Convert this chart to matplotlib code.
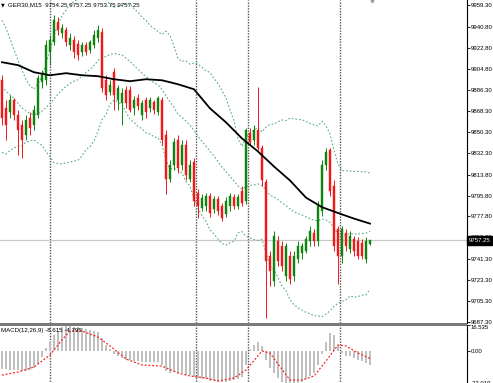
import numpy as np
import pandas as pd
import matplotlib
matplotlib.use("Agg")
import matplotlib.pyplot as plt
from matplotlib.patches import Rectangle
import matplotlib.transforms as mtransforms

plt.rcParams['font.family'] = ['Liberation Sans', 'DejaVu Sans']

# ---------------- data ----------------
symbol_title = "GER30,M15  9754.25 9757.25 9753.75 9757.25"
macd_title = "MACD(12,26,9) -8.615 -4.795"

# closes before the first visible candle (Bollinger warm-up only)
pre_close = [9937.8, 9939.5, 9933.5, 9929.2, 9922.3, 9911.9, 9899.0, 9886.1, 9873.2, 9864.6,
             9860.3, 9867.2, 9862.0, 9856.0, 9864.6, 9870.6, 9877.5, 9881.8, 9890.4]

open_ = [9894.7, 9870.6, 9867.2, 9877.5, 9864.6, 9856.0, 9847.4, 9862.0, 9856.0, 9864.6,
         9893.0, 9894.7, 9918.8, 9927.4, 9944.7, 9935.2, 9937.8, 9924.9, 9929.2, 9925.7,
         9918.8, 9924.9, 9920.6, 9924.9, 9930.9, 9936.1, 9894.7, 9884.4, 9901.6, 9877.5,
         9874.9, 9886.1, 9886.1, 9870.6, 9879.2, 9864.6, 9877.5, 9870.6, 9875.8, 9867.2,
         9877.5, 9847.4, 9810.4, 9821.6, 9843.1, 9821.6, 9838.8, 9810.4, 9824.2, 9798.3,
         9785.4, 9787.1, 9795.8, 9784.6, 9793.2, 9787.1, 9780.2, 9787.1, 9794.9, 9787.1,
         9800.1, 9791.4, 9849.1, 9843.1, 9851.7, 9836.2, 9807.0, 9744.1, 9722.6, 9757.0,
         9752.7, 9726.9, 9744.1, 9726.9, 9741.5, 9746.7, 9748.4, 9757.0, 9763.9, 9757.0,
         9782.8, 9821.6, 9834.5, 9804.4, 9767.3, 9744.1, 9763.9, 9750.1, 9758.7, 9757.0,
         9755.3, 9741.5, 9754.25]
high = [9899.0, 9877.5, 9881.8, 9879.2, 9868.9, 9860.3, 9864.6, 9867.2, 9873.2, 9899.0,
        9903.3, 9929.2, 9933.5, 9950.7, 9949.0, 9942.9, 9940.4, 9935.2, 9932.6, 9929.2,
        9927.4, 9927.4, 9929.2, 9937.8, 9942.1, 9939.5, 9899.0, 9894.7, 9905.1, 9890.4,
        9887.9, 9889.6, 9889.6, 9881.0, 9882.7, 9877.5, 9880.1, 9880.1, 9877.5, 9881.0,
        9880.1, 9851.7, 9825.9, 9844.8, 9847.4, 9843.1, 9843.1, 9825.9, 9827.6, 9801.8,
        9797.5, 9798.3, 9798.3, 9795.8, 9795.8, 9789.7, 9794.9, 9798.3, 9797.5, 9797.5,
        9804.4, 9853.4, 9853.4, 9856.0, 9888.7, 9838.8, 9810.4, 9748.4, 9765.6, 9761.3,
        9757.0, 9755.3, 9748.4, 9748.4, 9757.0, 9755.3, 9761.3, 9769.9, 9767.3, 9791.4,
        9825.9, 9836.2, 9836.2, 9808.7, 9769.9, 9769.9, 9767.3, 9765.6, 9761.3, 9760.4,
        9758.7, 9760.4, 9757.25]
low = [9856.0, 9843.1, 9862.0, 9860.3, 9830.2, 9827.6, 9843.1, 9847.4, 9851.7, 9862.0,
       9887.9, 9890.4, 9907.6, 9924.9, 9933.5, 9930.9, 9924.0, 9920.6, 9913.7, 9912.0,
       9915.4, 9916.3, 9918.0, 9922.3, 9927.4, 9884.4, 9877.5, 9881.8, 9868.9, 9868.9,
       9856.0, 9870.6, 9867.2, 9864.6, 9868.9, 9860.3, 9862.0, 9867.2, 9865.5, 9864.6,
       9838.8, 9797.5, 9807.0, 9817.3, 9815.5, 9817.3, 9808.7, 9807.0, 9787.1, 9776.8,
       9782.8, 9782.8, 9777.7, 9781.1, 9779.4, 9774.2, 9777.7, 9782.8, 9784.6, 9784.6,
       9787.1, 9788.9, 9838.8, 9838.8, 9834.5, 9804.4, 9690.7, 9718.3, 9718.3, 9735.5,
       9731.2, 9722.6, 9720.0, 9722.6, 9738.1, 9741.5, 9746.7, 9752.7, 9752.7, 9752.7,
       9778.5, 9817.3, 9795.8, 9748.4, 9720.0, 9738.1, 9748.4, 9746.7, 9744.1, 9741.5,
       9741.5, 9738.1, 9753.75]
close = [9862.0, 9856.0, 9877.5, 9864.6, 9851.7, 9843.1, 9860.3, 9853.4, 9868.9, 9896.5,
         9899.0, 9924.9, 9929.2, 9946.4, 9937.8, 9939.5, 9927.4, 9930.9, 9918.8, 9916.3,
         9924.9, 9918.8, 9927.4, 9933.5, 9937.8, 9887.9, 9881.8, 9890.4, 9881.8, 9887.9,
         9883.5, 9874.9, 9868.9, 9877.5, 9872.4, 9874.9, 9867.2, 9877.5, 9868.9, 9879.2,
         9843.1, 9810.4, 9821.6, 9841.4, 9819.0, 9838.8, 9813.0, 9821.6, 9791.4, 9787.1,
         9794.0, 9795.8, 9781.1, 9793.2, 9782.8, 9776.8, 9791.4, 9795.8, 9787.1, 9794.9,
         9789.7, 9851.7, 9841.4, 9851.7, 9836.2, 9808.7, 9739.8, 9731.2, 9761.3, 9739.8,
         9735.5, 9752.7, 9724.3, 9744.1, 9752.7, 9752.7, 9758.7, 9765.6, 9757.0, 9787.1,
         9821.6, 9832.8, 9800.1, 9752.7, 9744.1, 9767.3, 9752.7, 9761.3, 9748.4, 9744.1,
         9744.1, 9757.0, 9757.25]

# moving average (black), sampled every 4th bar
ma_idx = list(range(0, 93, 4))
ma_val = [9910.2, 9907.7, 9901.6, 9899.0, 9900.8, 9899.0, 9898.2, 9895.6, 9893.9, 9895.6,
          9894.7, 9891.3, 9887.0, 9870.6, 9858.6, 9844.8, 9833.6, 9820.7, 9808.7, 9794.0,
          9785.8, 9780.8, 9776.0, 9771.7]

# MACD histogram (main line) per bar
macd_main = [-11.5, -11.5, -12, -12, -12, -12.5, -12.5, -12, -11, -8,
             -4, 2, 6, 10, 13, 15, 16.535, 16, 15.5, 15,
             14.5, 14, 13.5, 13, 12, 8, 4, 1, -2, -3.5,
             -4.5, -5.5, -6, -6.5, -6.5, -7, -7, -7, -7, -7,
             -9, -13, -14, -13.5, -14, -14, -15, -15, -16.5, -17.5,
             -18, -18, -19, -19, -19.5, -20, -19.5, -19, -18.5, -18,
             -16.5, -9, 1, 4, 6, 3, -6, -11, -14, -17,
             -19.5, -21, -22.019, -21.5, -20.5, -19.5, -18, -16, -14, -9,
             -2, 6, 11.5, 10, 4, -1.5, -3, -3.5, -4.5, -5.5,
             -6.5, -7.5, -8.615]
# MACD signal, sampled
sig_idx = [0, 4, 8, 12, 15, 17, 20, 24, 27, 31, 35, 40, 44, 47, 51, 54, 58, 61, 65, 67,
           69, 72, 75, 78, 81, 84, 86, 89, 92]
sig_val = [-15.3, -13.4, -10.2, -2.5, 7.0, 12.7, 12.7, 8.9, 3.2, -5.1, -8.9, -9.6, -14.0,
           -15.9, -17.2, -19.1, -17.2, -12.1, 0.0, -1.3, -8.3, -18.5, -18.5, -15.9, -6.4,
           3.8, 3.2, -1.3, -4.795]

separators = [12, 48.5, 61.5, 84.5]
price_ticks = [9959.30, 9940.80, 9922.80, 9904.80, 9886.30, 9868.30, 9850.30, 9832.30,
               9813.80, 9795.80, 9777.80, 9759.80, 9741.30, 9723.30, 9705.30, 9687.30]
macd_ticks = [-22.019, 0.0, 16.535]

# ---------------- figure ----------------
W, H = 493, 383
fig = plt.figure(figsize=(W / 100, H / 100), dpi=100)
fig.patch.set_facecolor('white')

def fx(px):
    return px / W

def fy(py):
    return 1 - py / H

ax = fig.add_axes([0, fy(323), fx(467), fy(0) - fy(323)])
axm = fig.add_axes([0, fy(385.6), fx(467), fy(325) - fy(385.6)])

n = len(close)
x = np.arange(n)
o = np.array(open_); c = np.array(close); h = np.array(high); l = np.array(low)
up = c >= o
bull, bear = '#0f850f', '#f01818'
cols = np.where(up, bull, bear)

# Bollinger bands 20,2
allc = pd.Series(pre_close + close)
mid = allc.rolling(20).mean().values[-n:]
sd = allc.rolling(20).std(ddof=0).values[-n:]
bb_col = '#5aae86'
for band in (mid + 2 * sd, mid, mid - 2 * sd):
    ax.plot(x, band, color=bb_col, lw=0.8, ls=(0, (1.5, 1.8)), zorder=2)

ax.vlines(x, l, h, colors=cols, lw=0.7, zorder=3)
body = np.where(np.abs(c - o) < 0.5, 0.5, c - o)
ax.bar(x, body, bottom=o, width=0.62, color=cols, edgecolor=cols, lw=0.3, zorder=4)

ax.plot(ma_idx, ma_val, color='black', lw=1.3, zorder=5)

for s in separators:
    ax.axvline(s, color='#555555', lw=1.0, ls=(0, (1, 1)), zorder=1)
    axm.axvline(s, color='#555555', lw=1.0, ls=(0, (1, 1)), zorder=1)

last = close[-1]
ax.axhline(last, color='#c8c8c8', lw=0.9, zorder=1)

ax.set_xlim(-0.5, 116.25)
axm.set_xlim(-0.5, 116.25)
ax.set_ylim(9686.4, 9963.6)
axm.set_ylim(-22.019, 16.535)

for a in (ax, axm):
    a.set_xticks([])
    a.yaxis.tick_right()
    for sp in ('top', 'left', 'bottom'):
        a.spines[sp].set_visible(False)
    a.spines['right'].set_color('black')
    a.spines['right'].set_linewidth(0.8)
    a.tick_params(axis='y', direction='out', length=2.0, width=0.6, pad=0.8,
                  labelsize=4.35, colors='black')
    a.set_facecolor('white')

ax.set_yticks(price_ticks)
ax.set_yticklabels([f"{v:.2f}" for v in price_ticks])

axm.set_yticks(macd_ticks)
axm.set_yticklabels(["-22.019", "0.00", "16.535"])
tl = axm.get_yticklabels()
tl[0].set_va('bottom')
tl[2].set_va('top')

# MACD
axm.bar(x, macd_main, width=0.28, color='#c0c0c0', zorder=2)
axm.plot(sig_idx, sig_val, color='#ff2020', lw=0.9, ls=(0, (1.5, 1.5)), zorder=3)

# panel separator
fig.patches.append(Rectangle((0, fy(325.8)), fx(467), fy(322.8) - fy(325.8),
                             transform=fig.transFigure, facecolor='#7a7a7a',
                             edgecolor='none', zorder=10))

# current price box
trans = mtransforms.blended_transform_factory(ax.transAxes, ax.transData)
ax.text(1.003, last, "9757.25", transform=trans, color='white', fontsize=4.35,
        va='center', ha='left', clip_on=False, zorder=20,
        bbox=dict(facecolor='black', edgecolor='black', boxstyle='square,pad=0.3'))

# chart shift marker
ax.plot([92.5], [9962.5], marker='v', ms=2, color='#999999', clip_on=False, zorder=6)

# titles
fig.text(fx(0.5), fy(4.5), "\u25BC", fontsize=3.5, family='DejaVu Sans', va='center', ha='left')
fig.text(fx(8), fy(4.5), symbol_title, fontsize=4.4, va='center', ha='left')
axm.text(fx(1), fy(330.5), macd_title, transform=fig.transFigure, fontsize=4.4,
         va='center', ha='left', zorder=10)

fig.savefig("out.png", dpi=100, facecolor='white')
